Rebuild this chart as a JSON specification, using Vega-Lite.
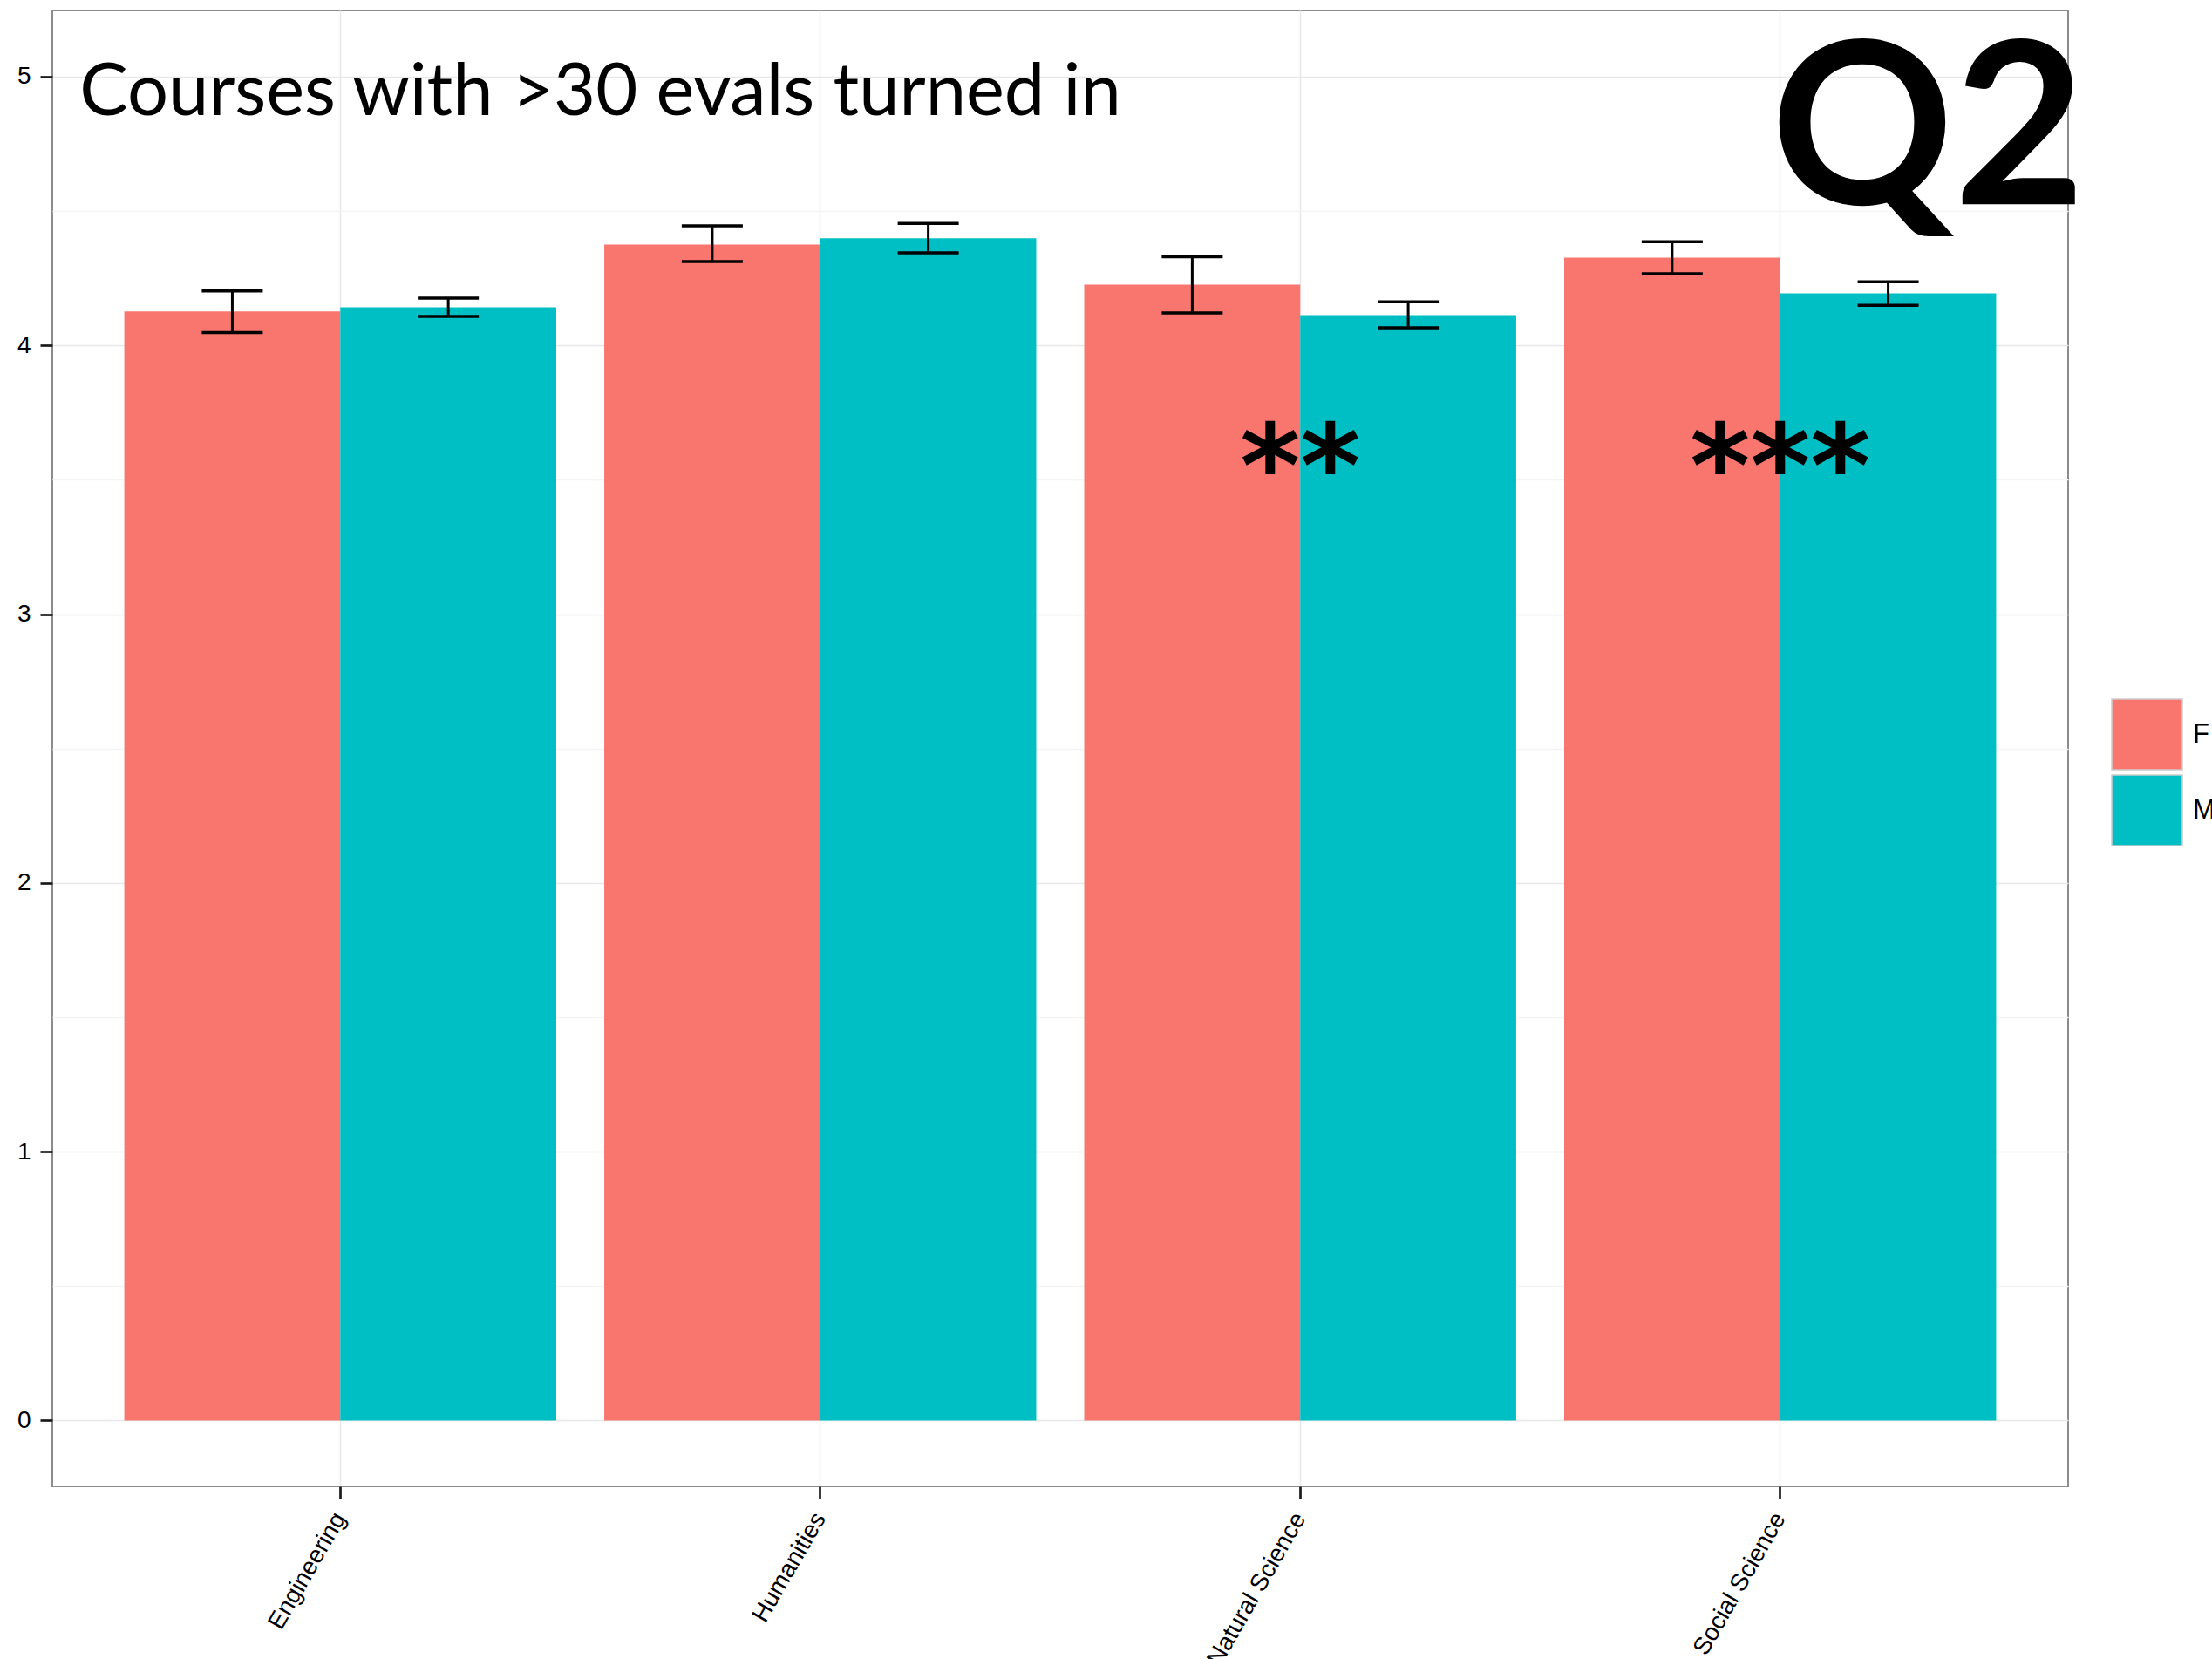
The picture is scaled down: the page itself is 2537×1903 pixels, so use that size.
{
  "$schema": "https://vega.github.io/schema/vega-lite/v6.json",
  "width": 2312,
  "height": 1693,
  "autosize": {"type": "none"},
  "padding": {"left": 60, "top": 12, "right": 165, "bottom": 198},
  "background": "white",
  "config": {
    "view": {"stroke": "#8c8c8c", "strokeWidth": 2},
    "axis": {"domain": false, "labelFont": "Liberation Sans", "labelColor": "#000000", "tickColor": "#1a1a1a", "tickWidth": 2.7, "tickSize": 14, "title": null},
    "text": {"color": "#000000"}
  },
  "datasets": {
    "ratings": [
      {"category": "Engineering", "sex": "F", "mean": 4.127, "lo": 4.048, "hi": 4.203},
      {"category": "Engineering", "sex": "M", "mean": 4.142, "lo": 4.108, "hi": 4.176},
      {"category": "Humanities", "sex": "F", "mean": 4.376, "lo": 4.312, "hi": 4.445},
      {"category": "Humanities", "sex": "M", "mean": 4.399, "lo": 4.345, "hi": 4.454},
      {"category": "Natural Science", "sex": "F", "mean": 4.226, "lo": 4.121, "hi": 4.330},
      {"category": "Natural Science", "sex": "M", "mean": 4.113, "lo": 4.066, "hi": 4.162},
      {"category": "Social Science", "sex": "F", "mean": 4.327, "lo": 4.267, "hi": 4.386},
      {"category": "Social Science", "sex": "M", "mean": 4.194, "lo": 4.149, "hi": 4.237}
    ],
    "stars": [
      {"category": "Natural Science", "label": "**", "y": 3.40},
      {"category": "Social Science", "label": "***", "y": 3.40}
    ],
    "heading": [
      {"category": "Engineering", "label": "Courses with >30 evals turned in", "y": 4.857}
    ],
    "badge": [
      {"category": "Social Science", "label": "Q2", "y": 4.526}
    ]
  },
  "layer": [
    {
      "data": {"name": "ratings"},
      "mark": {"type": "bar"},
      "encoding": {
        "x": {
          "field": "category", "type": "nominal",
          "scale": {"paddingInner": 0.1, "paddingOuter": 0.15},
          "axis": {"grid": true, "gridColor": "#e8e8e8", "gridWidth": 1.5, "labelAngle": -60, "labelAlign": "right", "labelBaseline": "middle", "labelFontSize": 28, "labelPadding": 18, "labelDx": 6, "labelLimit": 0}
        },
        "xOffset": {"field": "sex", "type": "nominal", "scale": {"paddingInner": 0, "paddingOuter": 0}},
        "y": {
          "field": "mean", "type": "quantitative",
          "scale": {"domain": [-0.2449, 5.2465], "nice": false, "zero": false},
          "axis": {
            "values": [0, 0.5, 1, 1.5, 2, 2.5, 3, 3.5, 4, 4.5, 5],
            "labelExpr": "datum.value % 1 === 0 ? format(datum.value, 'd') : ''",
            "grid": true,
            "gridColor": {"condition": {"test": "datum.value % 1 !== 0", "value": "#f4f4f4"}, "value": "#e8e8e8"},
            "gridWidth": 1.5,
            "tickOpacity": {"condition": {"test": "datum.value % 1 !== 0", "value": 0}, "value": 1},
            "labelFontSize": 28,
            "labelPadding": 11
          }
        },
        "color": {
          "field": "sex", "type": "nominal",
          "scale": {"domain": ["F", "M"], "range": ["#F8766D", "#00BFC4"]},
          "legend": {
            "title": null, "orient": "none", "legendX": 2361, "legendY": 789,
            "symbolType": "square", "symbolSize": 6561, "symbolStrokeColor": "#cccccc", "symbolStrokeWidth": 1.5,
            "labelFont": "Liberation Sans", "labelFontSize": 31, "labelOffset": 11, "labelColor": "#000000",
            "rowPadding": 0, "padding": 0
          }
        }
      }
    },
    {
      "data": {"name": "ratings"},
      "mark": {"type": "rule", "color": "#000000", "strokeWidth": 3},
      "encoding": {
        "x": {"field": "category", "type": "nominal"},
        "xOffset": {"field": "sex", "type": "nominal"},
        "y": {"field": "lo", "type": "quantitative"},
        "y2": {"field": "hi"}
      }
    },
    {
      "data": {"name": "ratings"},
      "mark": {"type": "tick", "color": "#000000", "size": 70, "thickness": 3.5, "opacity": 1},
      "encoding": {
        "x": {"field": "category", "type": "nominal"},
        "xOffset": {"field": "sex", "type": "nominal"},
        "y": {"field": "lo", "type": "quantitative"}
      }
    },
    {
      "data": {"name": "ratings"},
      "mark": {"type": "tick", "color": "#000000", "size": 70, "thickness": 3.5, "opacity": 1},
      "encoding": {
        "x": {"field": "category", "type": "nominal"},
        "xOffset": {"field": "sex", "type": "nominal"},
        "y": {"field": "hi", "type": "quantitative"}
      }
    },
    {
      "data": {"name": "stars"},
      "mark": {"type": "text", "font": "DejaVu Sans", "fontWeight": "bold", "fontSize": 132, "align": "center", "baseline": "alphabetic"},
      "encoding": {
        "x": {"field": "category", "type": "nominal"},
        "y": {"field": "y", "type": "quantitative"},
        "text": {"field": "label"}
      }
    },
    {
      "data": {"name": "heading"},
      "mark": {"type": "text", "font": "Lato", "fontSize": 83, "align": "left", "baseline": "alphabetic", "dx": -299},
      "encoding": {
        "x": {"field": "category", "type": "nominal"},
        "y": {"field": "y", "type": "quantitative"},
        "text": {"field": "label"}
      }
    },
    {
      "data": {"name": "badge"},
      "mark": {"type": "text", "font": "Lato", "fontWeight": "bold", "fontSize": 260, "align": "right", "baseline": "alphabetic", "dx": 350},
      "encoding": {
        "x": {"field": "category", "type": "nominal"},
        "y": {"field": "y", "type": "quantitative"},
        "text": {"field": "label"}
      }
    }
  ]
}
